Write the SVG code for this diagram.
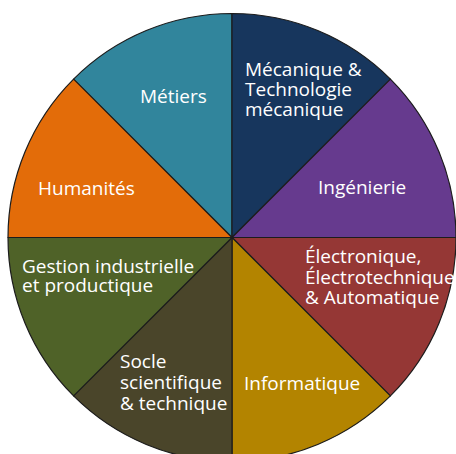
<svg xmlns="http://www.w3.org/2000/svg" width="456" height="454" viewBox="0 0 456 454">
<style>
.w{stroke:#1c1c1c;stroke-width:1.2;stroke-linejoin:round}
.t{font-family:"Open Sans","Noto Sans",sans-serif;font-size:19px;fill:#ffffff}
</style>
<rect width="456" height="454" fill="#ffffff"/>
<g id="metiers">
<path class="w" fill="#31859C" d="M232,237.5 L73.6,79.1 A224,224 0 0 1 232,13.5 Z"/>
<text class="t" x="140" y="103">Métiers</text>
</g>
<g id="mecanique">
<path class="w" fill="#17365D" d="M232,237.5 L232,13.5 A224,224 0 0 1 390.4,79.1 Z"/>
<text class="t"><tspan x="245" y="76">Mécanique &amp;</tspan><tspan x="245" y="96">Technologie</tspan><tspan x="245" y="116">mécanique</tspan></text>
</g>
<g id="ingenierie">
<path class="w" fill="#663A8E" d="M232,237.5 L390.4,79.1 A224,224 0 0 1 456,237.5 Z"/>
<text class="t" x="318" y="194">Ingénierie</text>
</g>
<g id="electronique">
<path class="w" fill="#953735" d="M232,237.5 L456,237.5 A224,224 0 0 1 390.4,395.9 Z"/>
<text class="t"><tspan x="305" y="263">Électronique,</tspan><tspan x="305" y="283.5">Électrotechnique</tspan><tspan x="305" y="303.5">&amp; Automatique</tspan></text>
</g>
<g id="informatique">
<path class="w" fill="#B38400" d="M232,237.5 L390.4,395.9 A224,224 0 0 1 232,461.5 Z"/>
<text class="t" x="244" y="390">Informatique</text>
</g>
<g id="socle">
<path class="w" fill="#4A452A" d="M232,237.5 L232,461.5 A224,224 0 0 1 73.6,395.9 Z"/>
<text class="t"><tspan x="120" y="367.5">Socle</tspan><tspan x="120" y="388.5">scientifique</tspan><tspan x="120" y="410">&amp; technique</tspan></text>
</g>
<g id="gestion">
<path class="w" fill="#4F6228" d="M232,237.5 L73.6,395.9 A224,224 0 0 1 8,237.5 Z"/>
<text class="t"><tspan x="22" y="272.5">Gestion industrielle</tspan><tspan x="22" y="292">et productique</tspan></text>
</g>
<g id="humanites">
<path class="w" fill="#E36C09" d="M232,237.5 L8,237.5 A224,224 0 0 1 73.6,79.1 Z"/>
<text class="t" x="38" y="194.5">Humanités</text>
</g>
<g id="connectors"/>
</svg>
